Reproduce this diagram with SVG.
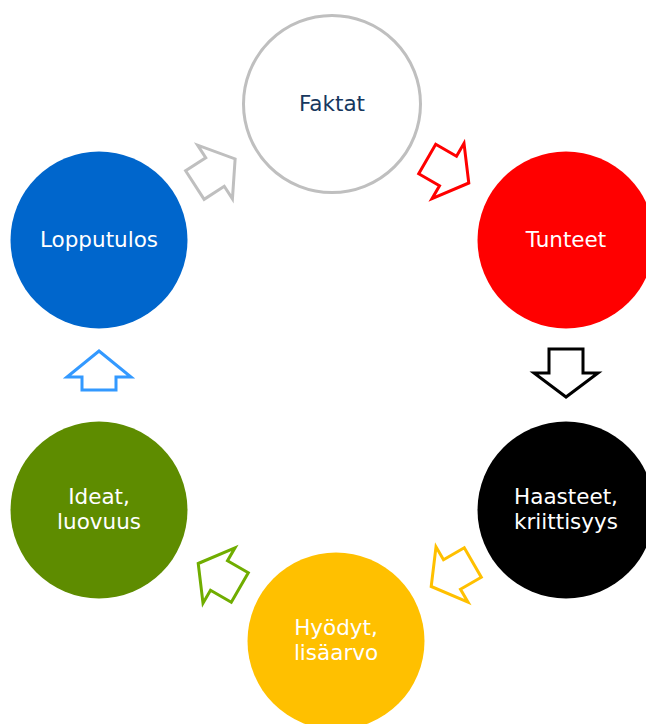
<svg xmlns="http://www.w3.org/2000/svg" width="646" height="724" viewBox="0 0 646 724">
<style>
.lbl{font-family:"DejaVu Sans",Verdana,sans-serif;font-size:21.5px;text-anchor:middle;fill:#fff}
.arr{fill:#fff;stroke-width:3;stroke-linejoin:miter}
</style>
<defs>
<polygon id="ar" points="24,0 0,32 0,17 -24,17 -24,-17 0,-17 0,-32"/>
</defs>
<rect width="646" height="724" fill="#fff"/>
<g id="connectors">
<use href="#ar" class="arr" stroke="#FF0000" transform="translate(448,171) rotate(30)"/>
<use href="#ar" class="arr" stroke="#000000" transform="translate(566,373) rotate(90)"/>
<use href="#ar" class="arr" stroke="#FFC000" transform="translate(452,574.5) rotate(150)"/>
<use href="#ar" class="arr" stroke="#70AD00" transform="translate(219,575.5) rotate(210)"/>
<polygon class="arr" stroke="#3399FF" points="99,351 131,377 116,377 116,390 82,390 82,377 67,377"/>
<use href="#ar" class="arr" stroke="#BFBFBF" transform="translate(215,172) rotate(-33)"/>
</g>
<g id="faktat">
<circle cx="332" cy="104" r="88.5" fill="#fff" stroke="#BFBFBF" stroke-width="3"/>
<text class="lbl" x="332" y="111" style="fill:#17375E">Faktat</text>
</g>
<g id="tunteet">
<circle cx="566" cy="240" r="88.5" fill="#FF0000"/>
<text class="lbl" x="566" y="247">Tunteet</text>
</g>
<g id="haasteet">
<circle cx="566" cy="510" r="88.5" fill="#000"/>
<text class="lbl" x="566" y="504">Haasteet,</text>
<text class="lbl" x="566" y="529">kriittisyys</text>
</g>
<g id="hyodyt">
<circle cx="336" cy="641" r="88.5" fill="#FFC000"/>
<text class="lbl" x="336" y="635">Hyödyt,</text>
<text class="lbl" x="336" y="660">lisäarvo</text>
</g>
<g id="ideat">
<circle cx="99" cy="510" r="88.5" fill="#5E8C00"/>
<text class="lbl" x="99" y="504">Ideat,</text>
<text class="lbl" x="99" y="529">luovuus</text>
</g>
<g id="lopputulos">
<circle cx="99" cy="240" r="88.5" fill="#0066CC"/>
<text class="lbl" x="99" y="247">Lopputulos</text>
</g>
</svg>
